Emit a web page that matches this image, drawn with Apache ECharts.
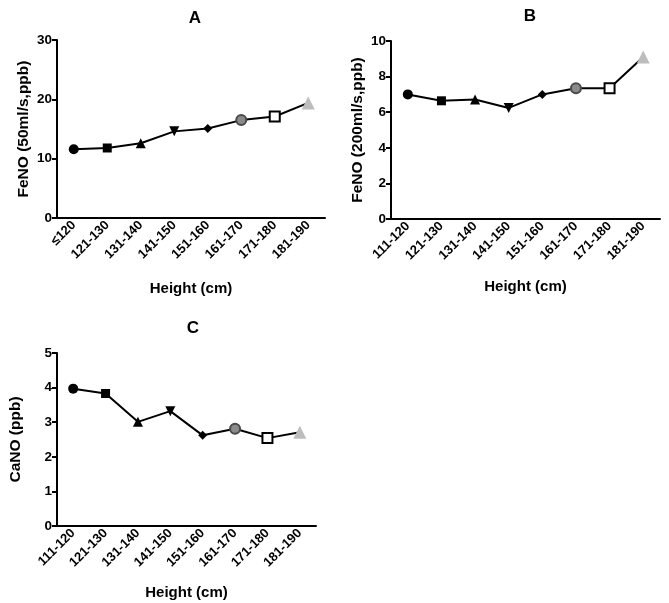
<!DOCTYPE html>
<html><head><meta charset="utf-8">
<script src="https://cdn.jsdelivr.net/npm/echarts@6/dist/echarts.min.js"></script>
<style>html,body{margin:0;padding:0;background:#fff}#c{width:669px;height:603px}</style>
</head><body><div id="c"></div>
<script>
const catsA = ['≤120','121-130','131-140','141-150','151-160','161-170','171-180','181-190'];
const catsBC = ['111-120','121-130','131-140','141-150','151-160','161-170','171-180','181-190'];
const feno50 = [11.6, 11.8, 12.6, 14.6, 15.1, 16.5, 17.1, 19.4];
const feno200 = [7.0, 6.64, 6.71, 6.24, 7.0, 7.34, 7.35, 9.1];
const cano = [3.97, 3.83, 3.01, 3.32, 2.62, 2.81, 2.54, 2.71];

const marks = [
  {symbol:'circle', symbolSize:10, itemStyle:{color:'#000'}},
  {symbol:'rect', symbolSize:9, itemStyle:{color:'#000'}},
  {symbol:'triangle', symbolSize:10, itemStyle:{color:'#000'}},
  {symbol:'triangle', symbolSize:10, symbolRotate:180, itemStyle:{color:'#000'}},
  {symbol:'diamond', symbolSize:9, itemStyle:{color:'#000'}},
  {symbol:'circle', symbolSize:10, itemStyle:{color:'#8a8a8a', borderColor:'#4a4a4a', borderWidth:2}},
  {symbol:'rect', symbolSize:10, itemStyle:{color:'#fff', borderColor:'#000', borderWidth:2}},
  {symbol:'triangle', symbolSize:13, itemStyle:{color:'#bdbdbd'}}
];
function styled(vals){ return vals.map((v,i)=>Object.assign({value:v}, marks[i])); }

const F = 'Liberation Sans, Arial, sans-serif';
function xAxis(idx, cats, gap){
  return {type:'category', gridIndex:idx, data:cats, boundaryGap:true,
    name:'Height (cm)', nameLocation:'middle', nameGap:gap,
    nameTextStyle:{fontFamily:F, fontWeight:'bold', fontSize:15, color:'#000'},
    axisLine:{lineStyle:{color:'#000', width:2}},
    axisTick:{alignWithLabel:true, length:5, lineStyle:{color:'#000', width:2}},
    axisLabel:{rotate:45, interval:0, fontFamily:F, fontWeight:'bold', fontSize:13, color:'#000', margin:5}};
}
function yAxis(idx, name, max, interval, gap){
  return {type:'value', gridIndex:idx, min:0, max:max, interval:interval,
    name:name, nameLocation:'middle', nameGap:gap,
    nameTextStyle:{fontFamily:F, fontWeight:'bold', fontSize:15.5, color:'#000'},
    splitLine:{show:false},
    axisLine:{show:true, lineStyle:{color:'#000', width:2}},
    axisTick:{show:true, length:5, lineStyle:{color:'#000', width:2}},
    axisLabel:{fontFamily:F, fontWeight:'bold', fontSize:13.5, color:'#000', margin:5}};
}
function series(idx, vals){
  return {type:'line', xAxisIndex:idx, yAxisIndex:idx, data:styled(vals),
    lineStyle:{color:'#000', width:2}, itemStyle:{color:'#000'}, animation:false, z:3};
}
const tStyle = {fontFamily:F, fontWeight:'bold', fontSize:17, color:'#000'};
const chart = echarts.init(document.getElementById('c'));
chart.setOption({
  backgroundColor:'#fff',
  animation:false,
  title:[
    {text:'A', left:190, top:5, textAlign:'center', textStyle:tStyle},
    {text:'B', left:525, top:3, textAlign:'center', textStyle:tStyle},
    {text:'C', left:188, top:315, textAlign:'center', textStyle:tStyle}
  ],
  grid:[
    {left:57, top:40, width:268, height:178},
    {left:391, top:41, width:269, height:178},
    {left:57, top:353, width:259, height:173}
  ],
  xAxis:[xAxis(0,catsA,63), xAxis(1,catsBC,60), xAxis(2,catsBC,59)],
  yAxis:[yAxis(0,'FeNO (50ml/s,ppb)',30,10,25), yAxis(1,'FeNO (200ml/s,ppb)',10,2,25), yAxis(2,'CaNO (ppb)',5,1,33)],
  series:[series(0,feno50), series(1,feno200), series(2,cano)]
});
</script></body></html>
